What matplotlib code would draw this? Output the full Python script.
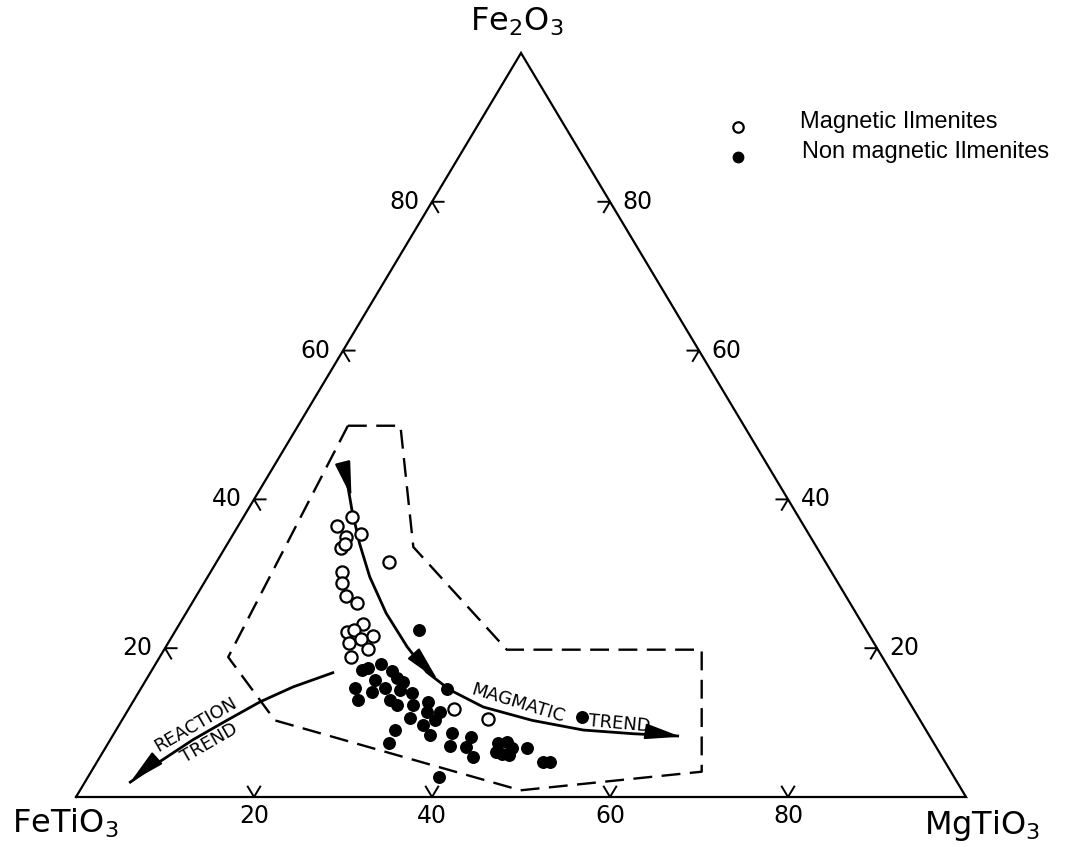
import numpy as np
import matplotlib
matplotlib.use('Agg')
import matplotlib.pyplot as plt

# ternary values: MgTiO3 % and Fe2O3 % (FeTiO3 is the rest)
mag_mg = [12.2, 11.1, 14.4, 12.9, 13.0, 13.2, 19.4, 14.8, 15.5, 16.8, 18.5,
          20.6, 19.3, 20.0, 22.6, 21.4, 20.3, 22.9, 21.5, 36.6, 41.0, 44.6]
mag_fe = [37.6, 36.4, 35.3, 34.9, 33.5, 34.0, 31.6, 30.2, 28.8, 27.0, 26.1,
          23.3, 22.2, 22.4, 21.6, 21.2, 20.7, 19.9, 18.8, 11.8, 10.5, 6.7]

nonmag_mg = [27.3, 23.6, 24.2, 25.3, 27.0, 28.1, 29.0, 25.7, 24.0, 26.2, 27.4,
             29.2, 30.8, 25.2, 28.8, 29.9, 31.7, 33.2, 34.4, 33.7, 35.2, 32.2,
             34.1, 35.2, 31.3, 35.6, 37.9, 40.3, 31.5, 38.6, 40.5, 41.9, 39.4,
             43.8, 44.7, 45.7, 45.0, 44.2, 45.9, 47.4, 50.1, 50.9, 51.5]
nonmag_fe = [22.4, 17.1, 17.3, 17.9, 16.9, 16.0, 15.5, 15.7, 14.7, 14.1, 14.7,
             14.4, 14.0, 13.0, 13.0, 12.4, 12.4, 12.8, 14.5, 11.4, 11.4, 10.6,
             9.7, 10.3, 9.0, 8.3, 8.6, 8.1, 7.3, 6.9, 6.7, 5.4, 2.7,
             7.3, 7.4, 6.6, 5.8, 6.0, 5.6, 6.6, 4.7, 4.7, 10.8]

# dashed field outline
field_mg = [5.6, 11.5, 21.1, 38.5, 60.4, 68.6, 49.5, 17.2, 7.7, 5.6]
field_fe = [49.9, 49.9, 33.6, 19.8, 19.8, 3.4, 0.9, 10.3, 18.8, 49.9]

# trend lines
magmatic_mg = [8.8, 11.7, 14.8, 18.2, 22.5, 27.1, 31.0, 34.8, 39.7, 46.1, 52.5, 58.4, 63.5]
magmatic_fe = [43.1, 38.6, 34.1, 29.6, 24.7, 20.2, 16.8, 14.4, 12.1, 10.3, 9.0, 8.5, 8.2]
reaction_mg = [20.5, 17.0, 14.3, 11.8, 9.3, 7.0, 5.1]
reaction_fe = [16.7, 14.8, 12.8, 10.3, 7.7, 4.7, 2.0]

# arrowheads: (tail mg, tail fe, tip mg, tip fe)
arrows = [(8.8, 43.1, 10.8, 40.3),
          (29.9, 18.0, 32.8, 15.7),
          (60.3, 8.7, 63.9, 8.1),
          (6.1, 4.3, 5.1, 2.0)]

ticks = [20, 40, 60, 80]


def tern(mg, fe):
  mg = np.asarray(mg, float)
  fe = np.asarray(fe, float)
  return mg + fe / 2.0, fe


def main():
  fig = plt.figure(figsize=(10.65, 8.47), dpi=100)
  ax = fig.add_axes([0, 0, 1, 1])
  ax.set_xlim(-8.54, 111.12)
  ax.set_ylim(-6.72, 107.12)
  ax.axis('off')

  # triangle
  ax.plot([0, 100, 50, 0], [0, 0, 100, 0], color='k', lw=1.6, solid_joinstyle='miter')

  d = 1.4
  tfont = dict(fontsize=17, ha='center', va='center')
  for t in ticks:
    # bottom edge
    x, y = tern(t, 0)
    ax.plot([x - 0.5 * d, x, x + 0.5 * d], [d, 0, d], color='k', lw=1.4)
    ax.text(x, y - 2.5, str(t), **tfont)
    # left edge
    x, y = tern(0, t)
    ax.plot([x + 1.3, x, x + 0.5 * d], [y, y, y - d], color='k', lw=1.4)
    ax.text(x - 3.1, y, str(t), **tfont)
    # right edge
    x, y = tern(100 - t, t)
    ax.plot([x - 1.3, x, x - 0.5 * d], [y, y, y - d], color='k', lw=1.4)
    ax.text(x + 3.1, y, str(t), **tfont)

  vfont = dict(fontsize=23, ha='center', va='center')
  ax.text(49.5, 104.2, r'Fe$_2$O$_3$', **vfont)
  ax.text(-1.2, -3.5, r'FeTiO$_3$', **vfont)
  ax.text(101.8, -3.8, r'MgTiO$_3$', **vfont)

  # field
  fx, fy = tern(field_mg, field_fe)
  ax.plot(fx, fy, color='k', lw=1.7, linestyle=(0, (8, 4)))

  # trends
  mx, my = tern(magmatic_mg, magmatic_fe)
  ax.plot(mx, my, color='k', lw=2)
  rx, ry = tern(reaction_mg, reaction_fe)
  ax.plot(rx, ry, color='k', lw=2)
  for a in arrows:
    x0, y0 = tern(a[0], a[1])
    x1, y1 = tern(a[2], a[3])
    ax.annotate('', xy=(float(x1), float(y1)), xytext=(float(x0), float(y0)),
                arrowprops=dict(arrowstyle='-|>,head_length=1.0,head_width=0.22',
                                color='k', lw=1.5, shrinkA=0, shrinkB=0,
                                mutation_scale=22))

  # points
  ox, oy = tern(mag_mg, mag_fe)
  ax.plot(ox, oy, 'o', mfc='white', mec='k', ms=8.8, mew=1.6, ls='none', zorder=4)
  nx, ny = tern(nonmag_mg, nonmag_fe)
  ax.plot(nx, ny, 'o', mfc='k', mec='k', ms=8.3, ls='none', zorder=5)

  # labels on trends
  x, y = tern(43.4, 12.6)
  ax.text(x, y, 'MAGMATIC', rotation=-17, fontsize=13, ha='center', va='center',
          rotation_mode='anchor')
  x, y = tern(56.2, 9.8)
  ax.text(x, y, 'TREND', rotation=-5, fontsize=13, ha='center', va='center',
          rotation_mode='anchor')
  x, y = tern(8.6, 9.7)
  ax.text(x, y, 'REACTION', rotation=30, fontsize=13, ha='center', va='center',
          rotation_mode='anchor')
  x, y = tern(11.3, 7.3)
  ax.text(x, y, 'TREND', rotation=30, fontsize=13, ha='center', va='center',
          rotation_mode='anchor')

  # legend
  lfont = dict(fontsize=17, family='Liberation Sans', ha='left', va='center')
  ax.plot([0.6930], [0.8500], 'o', mfc='white', mec='k', ms=7.5, mew=1.6,
          transform=ax.transAxes)
  ax.text(0.7512, 0.8560, 'Magnetic Ilmenites', transform=ax.transAxes, **lfont)
  ax.plot([0.6930], [0.8147], 'o', mfc='k', mec='k', ms=7.5,
          transform=ax.transAxes)
  ax.text(0.7530, 0.8205, 'Non magnetic Ilmenites', transform=ax.transAxes, **lfont)

  plt.savefig('out.png', dpi=100)


if __name__ == '__main__':
  main()
